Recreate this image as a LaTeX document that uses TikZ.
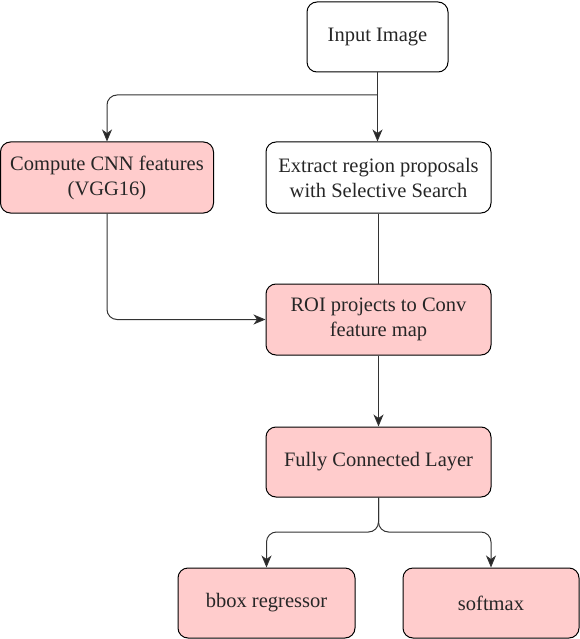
\documentclass[tikz,border=0pt]{standalone}
\usepackage{fontspec}
\setmainfont{LiberationSerif}[Extension=.ttf,UprightFont=*-Regular,BoldFont=*-Bold]
\usetikzlibrary{arrows.meta}
\begin{document}
\begin{tikzpicture}[x=1pt,y=-1pt,
  box/.style={draw=black,line width=1pt,rounded corners=10pt,align=center,
    inner sep=0pt,font=\fontsize{20.5}{25}\selectfont,text=black!85},
  pinkbox/.style={box,fill=red!20},
  whitebox/.style={box,fill=white},
  conn/.style={line width=1pt,draw=black!80,rounded corners=10pt},
  arr/.style={conn,-{Stealth[length=12pt,width=10pt,inset=3.5pt,fill=black!85]}}]
\useasboundingbox (0,0) rectangle (580,639);
\node[whitebox,minimum width=141pt,minimum height=70pt] (in) at (377.5,37) {Input Image};
\node[pinkbox,minimum width=213pt,minimum height=71pt] (cnn) at (107,177.5) {Compute CNN features\\(VGG16)};
\node[whitebox,minimum width=225pt,minimum height=71pt] (ext) at (378.5,177.5) {Extract region proposals\\with Selective Search};
\node[pinkbox,minimum width=225pt,minimum height=71pt] (roi) at (378.5,319.5) {ROI projects to Conv\\feature map};
\node[pinkbox,minimum width=225pt,minimum height=70pt] (fc) at (378.5,462) {Fully Connected Layer};
\node[pinkbox,minimum width=177pt,minimum height=70pt] (bbox) at (266.5,603) {bbox regressor};
\node[pinkbox,minimum width=176pt,minimum height=70pt] (soft) at (491,603) {softmax};
\coordinate (s1) at (in.south |- 0,95);
\coordinate (s2) at (fc.south |- 0,532);
\draw[arr] (in.south) -- (in.south |- ext.north);
\draw[arr] (s1) -| (cnn.north);
\draw[arr] (cnn.south) |- (roi.west);
\draw[conn] (ext.south) -- (roi.north);
\draw[arr] (roi.south) -- (fc.north);
\draw[arr] (fc.south) -- (s2) -| (bbox.north);
\draw[arr] (fc.south) -- (s2) -| (soft.north);
\end{tikzpicture}
\end{document}
